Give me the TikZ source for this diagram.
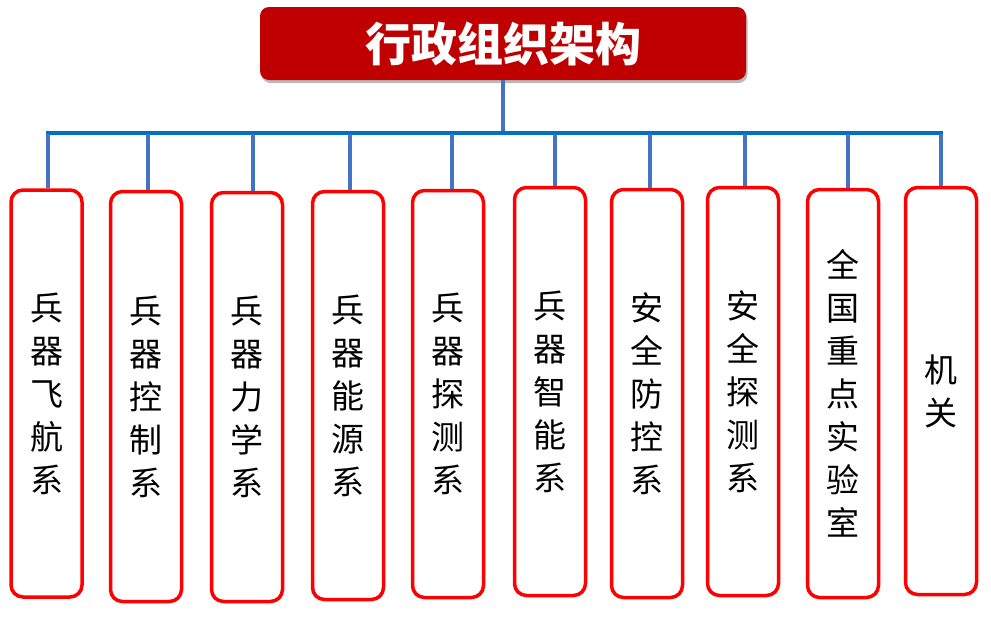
\documentclass[tikz,border=0pt]{standalone}
\usepackage{fontspec}
\newfontfamily\cjk{Noto Sans CJK SC}
\usetikzlibrary{shadows}
\definecolor{titlered}{HTML}{C00000}
\definecolor{barblue}{HTML}{0070C0}
\definecolor{dropblue}{HTML}{4472C4}
\definecolor{boxred}{HTML}{FF0000}
\tikzset{
  titlebox/.style={fill=titlered, rounded corners=9pt, minimum width=486pt, minimum height=73pt,
    drop shadow={shadow xshift=1.5pt, shadow yshift=-3pt, fill=black!45, opacity=0.6},
    text=white, font=\cjk\bfseries\fontsize{46}{50}\selectfont, inner sep=0pt},
  dept/.style={draw=boxred, line width=3.5pt, rounded corners=12pt, fill=white,
    minimum width=71pt, inner sep=0pt, align=center,
    font=\cjk\fontsize{33}{43}\selectfont},
  bar/.style={draw=barblue, line width=4pt},
  drop/.style={draw=dropblue, line width=3.5pt},
}
\begin{document}
\begin{tikzpicture}[x=1pt,y=-1pt]
\useasboundingbox (0,0) rectangle (991,622);
\node[titlebox] (title) at (503,43.5) {行政组织架构};

\node[dept, minimum height=407pt] (b1) at (46.5,393.5) {兵\\器\\飞\\航\\系};
\node[dept, minimum height=410pt] (b2) at (146,396.5) {兵\\器\\控\\制\\系};
\node[dept, minimum height=409pt] (b3) at (247,397) {兵\\器\\力\\学\\系};
\node[dept, minimum height=408pt] (b4) at (348,395.5) {兵\\器\\能\\源\\系};
\node[dept, minimum height=407pt] (b5) at (448,394) {兵\\器\\探\\测\\系};
\node[dept, minimum height=408pt] (b6) at (550,391.5) {兵\\器\\智\\能\\系};
\node[dept, minimum height=408pt] (b7) at (647,393.5) {安\\全\\防\\控\\系};
\node[dept, minimum height=408pt] (b8) at (743,391.5) {安\\全\\探\\测\\系};
\node[dept, minimum height=408pt] (b9) at (843,393.5) {全\\国\\重\\点\\实\\验\\室};
\node[dept, minimum height=407pt] (b10) at (941,391) {机\\关};

\coordinate (top) at (503,133);
\coordinate (d1) at (48,133);
\coordinate (d2) at (148,133);
\coordinate (d3) at (253,133);
\coordinate (d4) at (350,133);
\coordinate (d5) at (452,133);
\coordinate (d6) at (555,133);
\coordinate (d7) at (650,133);
\coordinate (d8) at (745,133);
\coordinate (d9) at (848,133);
\coordinate (d10) at (941,133);

\draw[drop] (title.south) -- (top);
\draw[bar] ([xshift=-1.75pt]d1) -- ([xshift=1.75pt]d10);
\foreach \i in {1,...,10}{
  \draw[drop] ([yshift=-1pt]d\i) -- (d\i |- b\i.north);
}
\end{tikzpicture}
\end{document}
